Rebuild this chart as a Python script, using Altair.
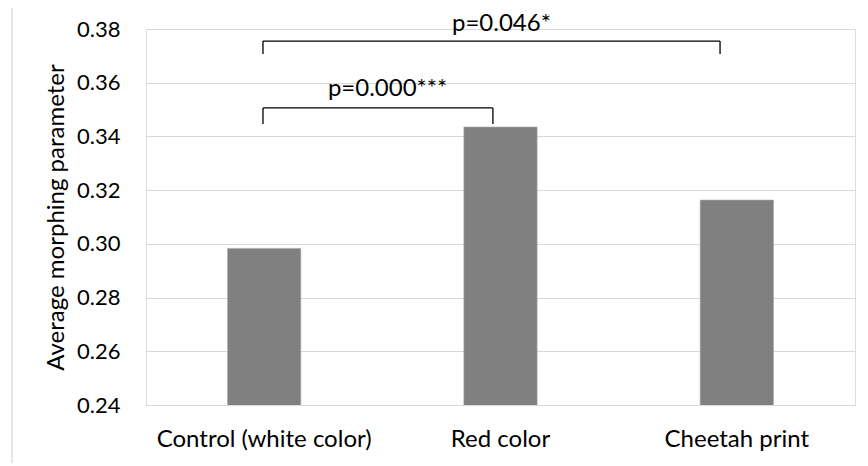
import altair as alt
import pandas as pd

categories = ["Control (white color)", "Red color", "Cheetah print"]
values = [0.2983, 0.3435, 0.3163]

# brackets: start/end position (category index units, 0..3), top y, tick bottom y, label
br_x1 = [0.495, 0.495]
br_x2 = [1.468, 2.429]
br_top = [0.3506, 0.3755]
br_bot = [0.3446, 0.3707]
br_labels = ["p=0.000***", "p=0.046*"]
br_label_x = [1.022, 1.504]
br_label_y = [0.3576, 0.3818]

FONT = "Lato"

bars_df = pd.DataFrame({"cat": categories, "val": values})
br_df = pd.DataFrame({"x1": br_x1, "x2": br_x2, "top": br_top, "bot": br_bot,
                      "label": br_labels, "lx": br_label_x, "ly": br_label_y})

yscale = alt.Scale(domain=[0.24, 0.38], nice=False, zero=False)

bars = alt.Chart(bars_df).mark_bar(color="#808080", stroke="#a6a6a6", strokeWidth=0.6, clip=True).encode(
    x=alt.X("cat:N", sort=categories, title=None,
            scale=alt.Scale(paddingInner=0.69, paddingOuter=0.345),
            axis=alt.Axis(labelAngle=0, labelFont=FONT, labelFontSize=24, labelColor="#000000",
                          labelLimit=400, ticks=False, domain=False, labelPadding=22)),
    y=alt.Y("val:Q", scale=yscale, title="Average morphing parameter",
            axis=alt.Axis(values=[0.24, 0.26, 0.28, 0.30, 0.32, 0.34, 0.36, 0.38], format=".2f",
                          ticks=False, domain=False, labelPadding=26,
                          labelFont=FONT, labelFontSize=22, labelColor="#000000",
                          titleFont=FONT, titleFontSize=24, titleFontWeight="normal",
                          titleColor="#000000", titlePadding=8,
                          gridColor="#d9d9d9", gridWidth=1.2)),
)

xq = alt.Scale(domain=[0, 3])

horiz = alt.Chart(br_df).mark_rule(color="#000000", strokeWidth=1.3, clip=False).encode(
    x=alt.X("x1:Q", scale=xq, axis=None), x2="x2:Q",
    y=alt.Y("top:Q", scale=yscale),
)
left = alt.Chart(br_df).mark_rule(color="#000000", strokeWidth=1.3, clip=False).encode(
    x=alt.X("x1:Q", scale=xq, axis=None),
    y=alt.Y("top:Q", scale=yscale), y2="bot:Q",
)
right = alt.Chart(br_df).mark_rule(color="#000000", strokeWidth=1.3, clip=False).encode(
    x=alt.X("x2:Q", scale=xq, axis=None),
    y=alt.Y("top:Q", scale=yscale), y2="bot:Q",
)
labels = alt.Chart(br_df).mark_text(font=FONT, fontSize=24, color="#000000", clip=False).encode(
    x=alt.X("lx:Q", scale=xq, axis=None),
    y=alt.Y("ly:Q", scale=yscale),
    text="label:N",
)

border = alt.Chart(pd.DataFrame({"a": [0]})).mark_rect(
    fill=None, stroke="#d9d9d9", strokeWidth=1.3, clip=False
).encode(x=alt.value(-134), x2=alt.value(760), y=alt.value(-26.5), y2=alt.value(480))

chart = alt.layer(border, bars, horiz, left, right, labels).resolve_scale(x="independent").properties(
    width=709, height=376,
    autosize=alt.AutoSizeParams(type="none"),
    padding={"left": 138, "top": 21, "right": 5, "bottom": 58},
).configure_view(stroke=None).configure(background="#ffffff")

chart.save("out.html", embed_options={"renderer": "svg", "actions": False})
